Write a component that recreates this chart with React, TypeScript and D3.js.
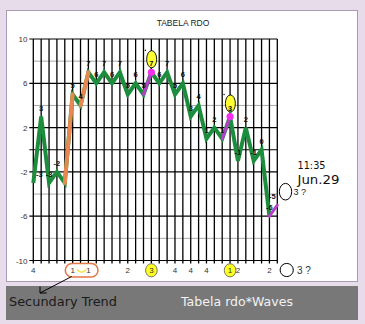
import React from "react";
import * as d3 from "d3";

const values = [-3, 3, -3, -2, -3, 5, 4, 7, 6, 7, 6, 7, 5, 6, 5, 7, 6, 7, 5, 6, 3, 4, 1, 2, 1, 3, -1, 2, -1, 0, -6, -5];
const categories = ["4", "", "", "", "", "1", "", "1", "", "", "", "", "2", "", "", "3", "", "", "4", "", "4", "", "4", "", "", "1", "2", "", "", "", "2", ""];
const yTicks = [10, 6, 2, -2, -6, -10];
const blackGrid = [10, 6, 2, 0, -2, -6, -10];
const grayGrid = [8, 4, -4, -8];
const orangeSegs = [[4, 5], [6, 7]];
const pinkSegs = [[14, 15], [24, 25], [30, 31]];
const pinkDots = [15, 25];
const ellipseMarks = [15, 25];
const circledCats = [15, 25];
const hiddenLabels = [4];

export default function App() {
  const x = d3.scaleLinear().domain([0, values.length - 1]).range([33.3, 277.3]);
  const y = d3.scaleLinear().domain([-10, 10]).range([260.5, 39]);
  const line = d3.line<number>().x((_, i) => x(i)).y((d) => y(d));
  const greenPath = line(values.slice(0, 31)) || "";
  const segPath = (a: number, b: number) =>
    d3.line<number>().x((k) => x(k)).y((k) => y(values[k]))([a, b]) || "";
  const idx = d3.range(values.length);
  const font = "Arial, 'Liberation Sans', sans-serif";

  return (
    <svg width={365} height={324} style={{ position: "absolute", left: 0, top: 0 }}>
      <rect x={0} y={0} width={365} height={324} fill="#e6dcea" />
      <rect x={6.5} y={10.5} width={351} height={271} fill="#ffffff" stroke="#a999b3" strokeWidth={1} />
      <text x={183} y={26} textAnchor="middle" fontSize={8.5} fontFamily={font} fill="#222">TABELA RDO</text>

      {grayGrid.map((v) => (
        <line key={"g" + v} x1={x(0)} x2={x(31)} y1={y(v)} y2={y(v)} stroke="#a8a8a8" strokeWidth={1} />
      ))}
      {idx.map((k) => (
        <line key={"v" + k} x1={x(k)} x2={x(k)} y1={y(10)} y2={y(-10) + 3} stroke="#000" strokeWidth={1.3} />
      ))}
      {blackGrid.map((v) => (
        <line key={"b" + v} x1={x(0) - 4} x2={x(31)} y1={y(v)} y2={y(v)} stroke="#000" strokeWidth={1.2} />
      ))}
      {yTicks.map((v) => (
        <text key={"yt" + v} x={27.5} y={y(v) + 3} textAnchor="end" fontSize={8} fontFamily={font} fill="#333">{v}</text>
      ))}

      {ellipseMarks.map((k) => (
        <g key={"e" + k}>
          <ellipse cx={x(k) + 0.3} cy={y(values[k]) - 13} rx={5} ry={8.6} fill="#ffff33" stroke="#000" strokeWidth={0.9} />
          <circle cx={x(k) - 6} cy={y(values[k]) - 22} r={0.7} fill="#000" />
        </g>
      ))}

      <path d={greenPath} fill="none" stroke="#1c8c3d" strokeWidth={4} strokeLinejoin="miter" />
      {orangeSegs.map(([a, b]) => (
        <path key={"o" + a} d={segPath(a, b)} stroke="#e8874f" strokeWidth={4} fill="none" strokeLinecap="round" />
      ))}
      {pinkSegs.map(([a, b]) => (
        <path key={"p" + a} d={segPath(a, b)} stroke="#b63fca" strokeWidth={3} fill="none" strokeLinecap="round" />
      ))}
      {pinkDots.map((k) => (
        <circle key={"pd" + k} cx={x(k)} cy={y(values[k])} r={3.6} fill="#f52ef0" />
      ))}

      {idx.filter((k) => !hiddenLabels.includes(k)).map((k) => {
        const dx = k === 0 ? 6 : k === values.length - 1 ? -5 : 0;
        return (
          <text key={"l" + k} x={x(k) + dx} y={y(values[k]) - 6} textAnchor="middle" fontSize={7.5} fontWeight="bold" fontFamily={font} fill="#111">
            {values[k]}
          </text>
        );
      })}

      {/* category annotations */}
      <rect x={65.3} y={263.5} width={32.7} height={13.5} rx={6.7} fill="#fff" stroke="#e3784a" strokeWidth={1.6} />
      <path d="M77,269.5 Q81.5,275 86,269.5" fill="none" stroke="#f3e64c" strokeWidth={1.6} />
      {circledCats.map((k) => (
        <ellipse key={"cc" + k} cx={x(k)} cy={270.3} rx={5.8} ry={6.6} fill="#ffff22" stroke="#555" strokeWidth={0.8} />
      ))}
      {categories.map((c, k) =>
        c ? (
          <text key={"c" + k} x={x(k)} y={273.3} textAnchor="middle" fontSize={8} fontFamily={font} fill="#333">{c}</text>
        ) : null
      )}
      <circle cx={286.7} cy={270} r={6.6} fill="none" stroke="#000" strokeWidth={1} />
      <text x={297} y={274} fontSize={10} fontFamily={font} fill="#333">3 ?</text>

      {/* right annotations */}
      <text x={297.5} y={168.5} fontSize={10.5} fontFamily="'DejaVu Sans', sans-serif" fill="#111" textLength={28} lengthAdjust="spacingAndGlyphs">11:35</text>
      <text x={297.5} y={184} fontSize={13} fontFamily="'DejaVu Sans', sans-serif" fill="#111" textLength={42} lengthAdjust="spacingAndGlyphs">Jun.29</text>
      <ellipse cx={285.5} cy={191.7} rx={6.2} ry={8.3} fill="none" stroke="#000" strokeWidth={1} />
      <text x={293.5} y={195} fontSize={9} fontFamily={font} fill="#222">3 ?</text>

      {/* bottom band */}
      <rect x={6} y={286} width={352} height={34} fill="#787878" />
      <line x1={71.7} y1={276.5} x2={40} y2={293} stroke="#000" strokeWidth={1} />
      <polyline points="40,286.5 40,293 46.7,293" fill="none" stroke="#000" strokeWidth={1} />
      <text x={9} y={306} fontSize={12.5} fontFamily="'DejaVu Sans', sans-serif" fill="#1a1a1a" textLength={108} lengthAdjust="spacingAndGlyphs">Secundary Trend</text>
      <text x={181} y={306} fontSize={12.5} fontFamily="'DejaVu Sans', sans-serif" fill="#f2f2f2" textLength={112} lengthAdjust="spacingAndGlyphs">Tabela rdo*Waves</text>
    </svg>
  );
}
